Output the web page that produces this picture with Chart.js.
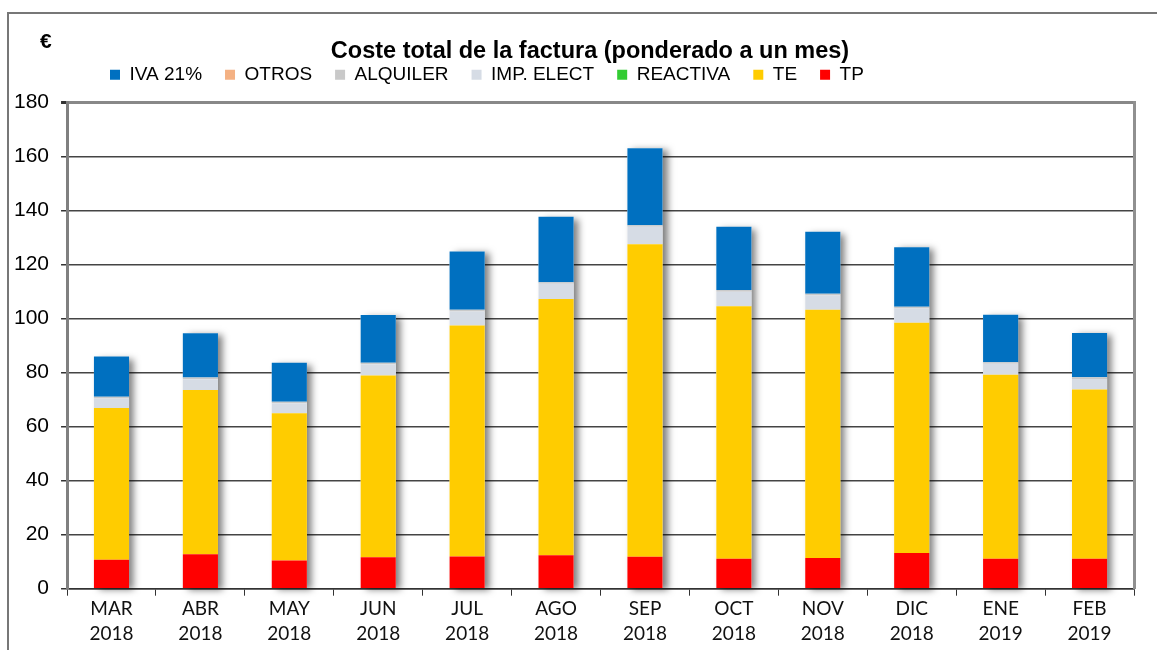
<!DOCTYPE html>
<html>
<head>
<meta charset="utf-8">
<script src="https://cdn.jsdelivr.net/npm/chart.js@4"></script>
<style>
  html, body { margin: 0; padding: 0; background: #fff; }
  #wrap { position: relative; width: 1157px; height: 650px; }
  #frame { position: absolute; left: 7px; top: 12px; right: 0; bottom: 0; border-left: 2px solid #777; border-top: 2px solid #777; }
  canvas { position: absolute; left: 0; top: 0; }
</style>
</head>
<body>
<div id="wrap">
  <div id="frame"></div>
  <canvas id="chart" width="1157" height="650"></canvas>
</div>
<script>
// meses (etiquetas en dos lineas)
const meses = [
  ['MAR', '2018'], ['ABR', '2018'], ['MAY', '2018'], ['JUN', '2018'],
  ['JUL', '2018'], ['AGO', '2018'], ['SEP', '2018'], ['OCT', '2018'],
  ['NOV', '2018'], ['DIC', '2018'], ['ENE', '2019'], ['FEB', '2019'],
];

// importes en euros
const tp       = [10.7, 12.7, 10.4, 11.6, 11.9, 12.4, 11.8, 11.1, 11.4, 13.2, 11.1, 11.1];
const te       = [56.2, 60.8, 54.5, 67.3, 85.5, 94.8, 115.6, 93.4, 91.8, 85.2, 68.1, 62.6];
const reactiva = [0, 0, 0, 0, 0, 0, 0, 0, 0, 0, 0, 0];
const impElect = [3.5, 4.0, 3.7, 4.1, 5.2, 5.6, 6.5, 5.4, 5.3, 5.3, 4.0, 3.9];
const alquiler = [0.6, 0.6, 0.6, 0.6, 0.6, 0.6, 0.6, 0.6, 0.6, 0.6, 0.6, 0.6];
const otros    = [0, 0, 0, 0, 0, 0, 0, 0, 0, 0, 0, 0];
const iva      = [14.9, 16.4, 14.4, 17.7, 21.6, 24.2, 28.5, 23.4, 23.0, 22.0, 17.6, 16.4];

const yTicks = [0, 20, 40, 60, 80, 100, 120, 140, 160, 180];

const narrow = '"Liberation Sans Narrow", "Arial Narrow", "Liberation Sans", Arial, sans-serif';

// sombra detras de cada columna apilada
const shadowPlugin = {
  id: 'barShadow',
  beforeDatasetsDraw(chart) {
    const ctx = chart.ctx;
    const metas = chart.getSortedVisibleDatasetMetas();
    if (!metas.length) return;
    ctx.save();
    meses.forEach((m, i) => {
      let top = Infinity, bottom = -Infinity, x = 0, w = 0;
      metas.forEach(meta => {
        const el = meta.data[i];
        if (!el) return;
        const p = el.getProps(['x', 'y', 'base', 'width'], true);
        top = Math.min(top, p.y, p.base);
        bottom = Math.max(bottom, p.y, p.base);
        x = p.x; w = p.width;
      });
      ctx.shadowColor = 'rgba(0,0,0,0.5)';
      ctx.shadowBlur = 7;
      ctx.shadowOffsetX = 5;
      ctx.shadowOffsetY = 2;
      ctx.fillStyle = '#fff';
      ctx.fillRect(x - w / 2, top, w, bottom - top);
    });
    ctx.restore();
  }
};

// titulo y leyenda algo desplazados como en el original; espacio extra bajo la leyenda
const layoutPlugin = {
  id: 'headerTweak',
  beforeInit(chart) {
    const fit = chart.legend.fit;
    chart.legend.fit = function () { fit.call(this); this.height += 8; };
  },
  afterLayout(chart) {
    chart.titleBlock.left = 38;
    chart.legend.left = 87;
  }
};

const euroPlugin = {
  id: 'euroLabel',
  afterDraw(chart) {
    const ctx = chart.ctx;
    ctx.save();
    ctx.font = 'bold 21px "Liberation Sans", Arial, sans-serif';
    ctx.fillStyle = '#000';
    ctx.textBaseline = 'middle';
    ctx.fillText('€', 40, 42);
    ctx.restore();
  }
};

function ds(label, data, color) {
  return { label, data, backgroundColor: color, borderWidth: 0, stack: 's' };
}

new Chart(document.getElementById('chart'), {
  type: 'bar',
  data: {
    labels: meses,
    datasets: [
      ds('TP', tp, '#FF0000'),
      ds('TE', te, '#FFCC00'),
      ds('REACTIVA', reactiva, '#33CC33'),
      ds('IMP. ELECT', impElect, '#D6DCE5'),
      ds('ALQUILER', alquiler, '#C9C9C9'),
      ds('OTROS', otros, '#F4B183'),
      ds('IVA 21%', iva, '#0070C0'),
    ],
  },
  options: {
    responsive: false,
    animation: false,
    layout: { padding: { left: 2, right: 15, top: 37, bottom: 3 } },
    datasets: { bar: { categoryPercentage: 1, barPercentage: 0.395 } },
    plugins: {
      title: {
        display: true,
        text: 'Coste total de la factura (ponderado a un mes)',
        color: '#000',
        font: { family: narrow, size: 23.5, weight: 'bold' },
        padding: { top: 0, bottom: -23 },
      },
      legend: {
        reverse: true,
        align: 'start',
        labels: {
          color: '#000',
          boxWidth: 10, boxHeight: 10,
          padding: 23,
          font: { family: narrow, size: 19 },
        },
      },
      tooltip: { enabled: false },
    },
    scales: {
      x: {
        stacked: true,
        grid: { offset: true, drawOnChartArea: false, drawTicks: true, tickLength: 7, color: '#333' },
        border: { color: '#333', width: 1.5 },
        ticks: { color: '#111', padding: 0, font: { family: 'Lato, "Open Sans", sans-serif', size: 19, lineHeight: 1.35 } },
      },
      y: {
        stacked: true,
        min: 0, max: 180,
        afterBuildTicks(axis) { axis.ticks = yTicks.map(v => ({ value: v })); },
        grid: {
          color: c => c.tick && c.tick.value === 180 ? '#888' : '#444',
          lineWidth: c => c.tick && c.tick.value === 180 ? 3 : 1.5,
          tickLength: 6,
          tickColor: '#333',
        },
        border: { color: '#808080', width: 3 },
        ticks: { color: '#000', padding: 12, font: { family: '"Liberation Sans", Arial, sans-serif', size: 21 } },
      },
      y2: {
        position: 'right',
        min: 0, max: 180,
        grid: { display: false },
        border: { color: '#909090', width: 3 },
        ticks: { display: false },
      },
    },
  },
  plugins: [shadowPlugin, layoutPlugin, euroPlugin],
});
</script>
</body>
</html>
